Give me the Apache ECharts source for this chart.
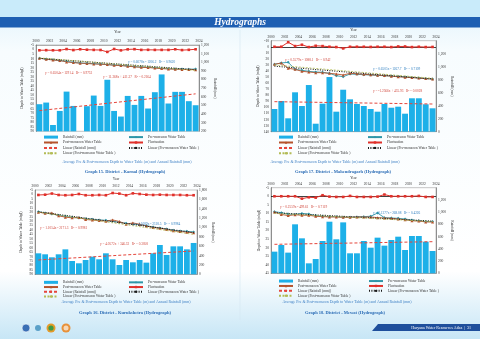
<!DOCTYPE html>
<html><head><meta charset="utf-8">
<script src="https://cdn.jsdelivr.net/npm/echarts@6/dist/echarts.min.js"></script>
<style>html,body{margin:0;padding:0;background:#fff}#c{width:480px;height:339px}</style>
</head><body><div id="c"></div>
<script>
// ---------- DATA ----------
const years = ['2000','2001','2002','2003','2004','2005','2006','2007','2008','2009','2010','2011','2012','2013','2014','2015','2016','2017','2018','2019','2020','2021','2022','2023'];

// Karnal
const karnalRain  = [514, 533, 273, 436, 660, 494, null, 491, 614, 494, 797, 436, 371, 610, 506, 610, 464, 653, 859, 522, 657, 657, 549, 502];
const karnalPre   = [9.7, 10.4, 11.2, 12.3, 13.0, 14.1, 14.8, 15.2, 15.6, 15.9, 16.7, 17.0, 17.4, 18.1, 18.9, 19.2, 19.6, 20.0, 20.7, 21.1, 21.4, 21.4, 21.8, 21.4];
const karnalPost  = [9.5, 10.6, 11.6, 12.0, 13.6, 14.4, 15.0, 15.4, 15.8, 16.2, 16.4, 17.4, 17.6, 18.4, 19.0, 19.6, 19.8, 20.4, 21.0, 21.4, 21.6, 21.9, 22.0, 22.2];
const karnalFluct = [0.8, 0.7, 0.8, 0.8, -0.5, 0.6, -0.3, 0.2, 0.4, 0.5, 2.6, -0.6, 0.9, -0.2, -0.4, 0.4, 0.3, 0.4, 0.4, 0.4, -0.3, 0.6, 0.3, -0.3];
const karnalRainTrend = [440, 634];
const karnalPreTrend  = [9.6, 22.2];
const karnalPostTrend = [9.2, 23.0];
const karnalEquations = ['y = 0.6078x - 1206.2   R² = 0.9620', 'y = 0.6504x - 1291.4   R² = 0.9753', 'y = 11.268x + 411.37   R² = 0.2164'];

// Mahendragarh
const mahendragarhRain  = [349, 472, 206, 606, 395, 718, 123, 431, 841, 308, 646, 498, 426, 395, 349, 308, 426, 369, 385, 277, 514, 514, 422, 360];
const mahendragarhPre   = [28.9, 26.7, 25.6, 37.2, 38.8, 40.5, 41.6, 42.1, 43.8, 47.7, 49.3, 44.9, 45.5, 46.0, 46.5, 47.2, 47.7, 48.3, 49.0, 49.8, 50.5, 51.5, 52.5, 53.1];
const mahendragarhPost  = [28.9, 26.7, 35.5, 37.2, 40.5, 41.6, 42.7, 42.7, 43.8, 44.9, 46.5, 43.8, 44.5, 45.5, 46.2, 46.8, 47.5, 48.5, 49.5, 50.2, 50.8, 51.6, 52.5, 53.0];
const mahendragarhFluct = [0, 0, -7.5, -1.1, -3.3, 0.5, -1.6, -1.1, 0, 0.5, 2.7, 0, 0, 0, 0.3, 0, 0, 0.5, -0.5, -0.5, 0.5, 0, 0.5, 0.3];
const mahendragarhRainTrend = [462, 426];
const mahendragarhPreTrend  = [32.0, 53.0];
const mahendragarhPostTrend = [30.0, 52.0];
const mahendragarhEquations = ['y = 0.6505x - 1267.7   R² = 0.7109', 'y = 0.5579x - 1088.1   R² = 0.942', 'y = -1.2566x + 435.93   R² = 0.0028'];

// Kurukshetra
const kurukshetraRain  = [448, 427, 363, 427, 533, 284, 235, 306, 377, 320, 448, 320, 199, 306, 256, 306, 249, 448, 626, 413, 597, 597, 533, 669];
const kurukshetraPre   = [19.4, 20.9, 22.0, 23.5, 24.7, 25.8, 26.5, 27.3, 28.0, 28.8, 29.2, 30.3, 31.4, 32.6, 33.3, 34.1, 35.2, 36.7, 37.8, 38.9, 40.4, 41.2, 41.6, 42.3];
const kurukshetraPost  = [20.0, 21.2, 21.0, 24.1, 25.6, 26.4, 26.0, 28.2, 28.9, 29.4, 30.1, 28.7, 30.5, 33.5, 32.1, 33.6, 35.5, 37.3, 38.1, 39.5, 41.0, 41.8, 42.5, 43.2];
const kurukshetraFluct = [0.6, 0.3, -1.0, 0.6, 0.9, 0.6, -0.5, 0.9, 0.9, 0.6, 0.9, -1.6, -0.9, 0.9, -1.2, -0.5, 0.3, 0.6, 0.3, 0.6, 0.6, 0.6, 0.9, 0.9];
const kurukshetraRainTrend = [306, 498];
const kurukshetraPreTrend  = [19.5, 43.0];
const kurukshetraPostTrend = [20.0, 45.0];
const kurukshetraEquations = ['y = 1.1689x - 2318.5   R² = 0.9984', 'y = 1.1054x - 2171.3   R² = 0.9981', 'y = 4.0572x + 346.32   R² = 0.3058'];

// Mewat
const mewatRain  = [354, 463, 338, 801, 572, 163, 234, 528, 844, 556, 833, 327, 327, 528, 419, 583, 452, 545, 599, 381, 610, 610, 517, 365];
const mewatPre   = [9.0, 9.6, 10.4, 10.6, 10.0, 10.4, 11.3, 11.7, 11.9, 11.9, 12.3, 12.3, 12.1, 11.9, 11.7, 9.8, 12.5, 12.7, 12.9, 13.3, 13.9, 14.3, 14.8, 14.8];
const mewatPost  = [9.2, 10.6, 11.3, 10.8, 11.1, 11.1, 11.7, 11.9, 12.1, 12.1, 12.3, 12.3, 12.1, 12.1, 12.1, 12.5, 12.7, 12.9, 13.3, 13.7, 14.3, 14.5, 15.0, 15.0];
const mewatFluct = [0, 0, 0, 0, 1.4, 0.6, 0.8, -0.6, 0.2, 0.4, 0.4, -0.2, 0.4, 0.4, 0.4, 0.2, -1.0, 0, 0, 0, 0, -0.2, 0.4, 0.4];
const mewatRainTrend = [474, 517];
const mewatPreTrend  = [9.6, 14.5];
const mewatPostTrend = [10.0, 14.8];
const mewatEquations = ['y = 0.1377x - 268.08   R² = 0.4226', 'y = 0.2559x - 499.61   R² = 0.7119', ''];

const seriesNames = ['Rainfall (mm)', 'Pre-monsoon Water Table', 'Post-monsoon Water Table', 'Fluctuation',
  'Linear (Rainfall (mm))', 'Linear (Pre-monsoon Water Table )', 'Linear (Post-monsoon Water Table )'];
const captionText = 'Average Pre & Post-monsoon Depth to Water Table (m) and Annual Rainfall (mm)';
const graphTitles = ['Graph 15. District - Karnal (Hydrograph)', 'Graph 17. District - Mahendragarh (Hydrograph)',
  'Graph 16. District - Kurukshetra (Hydrograph)', 'Graph 18. District - Mewat (Hydrograph)'];

// ---------- LAYOUT / STYLE ----------
const F = '"Liberation Serif","DejaVu Serif",serif';
const C = {rain:'#1db0e8', pre:'#2e96a8', post:'#b5532c', fluct:'#e0302a', rainT:'#e5463c', preT:'#1a1a1a', postT:'#b3bb55'};

const panels = [
  {g:{left:36, top:45, width:163, height:86.3}, depth:[-5,90,5], rainAx:[200,1200,100], hideMax:false, zero:false,
   d:[karnalRain, karnalPre, karnalPost, karnalFluct, karnalRainTrend, karnalPreTrend, karnalPostTrend], eq:karnalEquations,
   eqPos:[[128,61.7],[45,72.7],[103,77]], yearGap:11, lGap:12, rGap:13, leg:{l:43, r:128, top:134.4, h:5.4},
   cap:[127,162.3], title:[125,172.3]},
  {g:{left:271, top:40.7, width:165, height:91}, depth:[-10,140,10], rainAx:[0,1400,200], hideMax:true, zero:true,
   d:[mahendragarhRain, mahendragarhPre, mahendragarhPost, mahendragarhFluct, mahendragarhRainTrend, mahendragarhPreTrend, mahendragarhPostTrend], eq:mahendragarhEquations,
   eqPos:[[373,69.3],[285,60],[373,91]], yearGap:9, lGap:11, rGap:12, leg:{l:278, r:367, top:134.4, h:5.4},
   cap:[335,162.3], title:[343,172.3]},
  {g:{left:35, top:190, width:162, height:84.3}, depth:[-5,90,5], rainAx:[0,1800,200], hideMax:false, zero:false,
   d:[kurukshetraRain, kurukshetraPre, kurukshetraPost, kurukshetraFluct, kurukshetraRainTrend, kurukshetraPreTrend, kurukshetraPostTrend], eq:kurukshetraEquations,
   eqPos:[[133,224.3],[40,228.3],[100,244]], yearGap:9, lGap:12, rGap:14, leg:{l:43, r:128, top:280, h:4.7},
   cap:[126,302.3], title:[125,313.3]},
  {g:{left:271, top:187.7, width:165, height:85.6}, depth:[-5,45,5], rainAx:[0,1400,200], hideMax:true, zero:true,
   d:[mewatRain, mewatPre, mewatPost, mewatFluct, mewatRainTrend, mewatPreTrend, mewatPostTrend], eq:mewatEquations,
   eqPos:[[373,212.7],[280,207.3],[373,230]], yearGap:8, lGap:10, rGap:12, leg:{l:278, r:368, top:278.6, h:4.9},
   cap:[347,302.3], title:[345,313.3]}
];

function trendData(ends){ const a = years.map(()=>null); a[0]=ends[0]; a[a.length-1]=ends[1]; return a; }

const grid=[], xAxis=[], yAxis=[], series=[], legend=[], graphic=[];
const axisTxt = {fontSize:3.6, color:'#333', fontFamily:F};

// background
graphic.push({type:'rect', z:-10, shape:{x:0,y:0,width:480,height:339},
  style:{fill:new echarts.graphic.LinearGradient(0,0,0,1,[{offset:0,color:'#dff3fc'},{offset:0.15,color:'#f7fcfe'},{offset:0.8,color:'#ffffff'},{offset:1,color:'#c7e6f6'}])}});
graphic.push({type:'rect', z:-9, shape:{x:0,y:0,width:480,height:17}, style:{fill:'#c9ebfa'}});
graphic.push({type:'rect', z:-9, shape:{x:0,y:17,width:480,height:10.5}, style:{fill:'#1e5fb2'}});
graphic.push({type:'text', x:240, y:22.5, style:{text:'Hydrographs', fill:'#fff', font:'italic bold 9.5px '+F, textAlign:'center', textVerticalAlign:'middle'}});
graphic.push({type:'line', z:-8, shape:{x1:240,y1:30,x2:240,y2:320}, style:{stroke:'#d3e6f1', lineWidth:0.6}});
// footer
graphic.push({type:'polygon', shape:{points:[[372,331],[378,324],[480,324],[480,331]]}, style:{fill:'#1f4f9c'}});
graphic.push({type:'text', x:471, y:327.6, style:{text:'Haryana Water Resources Atlas  |  31', fill:'#fff', font:'4px '+F, textAlign:'right', textVerticalAlign:'middle'}});
graphic.push({type:'circle', shape:{cx:26,cy:328,r:4}, style:{fill:'#3a6fb5', stroke:'#fff', lineWidth:0.6}});
graphic.push({type:'circle', shape:{cx:38,cy:328,r:3}, style:{fill:'#5aa0c8'}});
graphic.push({type:'circle', shape:{cx:51,cy:328,r:4.5}, style:{fill:'#e49a2a'}});
graphic.push({type:'circle', shape:{cx:51,cy:328,r:2.6}, style:{fill:'#3e9a46'}});
graphic.push({type:'circle', shape:{cx:66,cy:328,r:4.5}, style:{fill:'#e8913a'}});
graphic.push({type:'circle', shape:{cx:66,cy:328,r:2.5}, style:{fill:'#f6d9b8'}});

panels.forEach((p, i) => {
  const [rain, pre, post, fluct, rainT, preT, postT] = p.d;
  grid.push(Object.assign({show:true, backgroundColor:'#fff', borderColor:'#8a8a8a', borderWidth:0.5, containLabel:false}, p.g));
  xAxis.push({type:'category', gridIndex:i, data:years, boundaryGap:true, axisLabel:{show:false}, axisTick:{show:false}, axisLine:{show:false}, splitLine:{show:false}});
  xAxis.push({type:'value', gridIndex:i, position:'top', min:2000, max:2024, interval:2,
    axisLabel:Object.assign({margin:2, formatter:v=>String(v)}, axisTxt), axisTick:{show:false}, axisLine:{show:true, lineStyle:{color:'#777', width:0.5}}, splitLine:{show:false},
    name:'Year', nameLocation:'middle', nameGap:p.yearGap, nameTextStyle:axisTxt});
  yAxis.push({type:'value', gridIndex:i, inverse:true, min:p.depth[0], max:p.depth[1], interval:p.depth[2], position:'left',
    axisLabel:Object.assign({margin:2, formatter:v=>String(v)}, axisTxt), axisTick:{show:false}, axisLine:{show:true, lineStyle:{color:'#555', width:0.6}}, splitLine:{show:false},
    name:'Depth to Water Table (mbgl)', nameLocation:'middle', nameGap:p.lGap, nameRotate:90, nameTextStyle:axisTxt});
  yAxis.push({type:'value', gridIndex:i, min:p.rainAx[0], max:p.rainAx[1], interval:p.rainAx[2], position:'right',
    axisLabel:Object.assign({margin:2, showMaxLabel:!p.hideMax, formatter:v=>v.toLocaleString('en-US')}, axisTxt),
    axisTick:{show:false}, axisLine:{show:true, lineStyle:{color:'#555', width:0.6}}, splitLine:{show:false},
    name:'Rainfall (mm)', nameLocation:'middle', nameGap:p.rGap, nameRotate:-90, nameTextStyle:axisTxt});
  const xi = 2*i, yl = 2*i, yr = 2*i+1;
  series.push({name:seriesNames[0], type:'bar', xAxisIndex:xi, yAxisIndex:yr, data:rain, barCategoryGap:'14%', clip:true, itemStyle:{color:C.rain}, z:1});
  series.push({name:seriesNames[4], type:'line', xAxisIndex:xi, yAxisIndex:yr, data:trendData(rainT), connectNulls:true, symbol:'none', lineStyle:{color:C.rainT, width:1, type:[3,2]}, itemStyle:{color:C.rainT}, z:3});
  series.push({name:seriesNames[1], type:'line', xAxisIndex:xi, yAxisIndex:yl, data:pre, symbol:'diamond', symbolSize:3, lineStyle:{color:C.pre, width:0.9}, itemStyle:{color:C.pre}, z:4});
  series.push({name:seriesNames[2], type:'line', xAxisIndex:xi, yAxisIndex:yl, data:post, symbol:'triangle', symbolSize:3, lineStyle:{color:C.post, width:0.9}, itemStyle:{color:C.post}, z:4});
  const fl = {name:seriesNames[3], type:'line', xAxisIndex:xi, yAxisIndex:yl, data:fluct, symbol:'rect', symbolSize:2.6, lineStyle:{color:C.fluct, width:1}, itemStyle:{color:C.fluct}, z:5};
  if (p.zero) fl.markLine = {silent:true, symbol:'none', label:{show:false}, lineStyle:{color:'#111', width:0.8, type:'solid'}, data:[{yAxis:0}], z:2};
  series.push(fl);
  series.push({name:seriesNames[5], type:'line', xAxisIndex:xi, yAxisIndex:yl, data:trendData(preT), connectNulls:true, symbol:'none', lineStyle:{color:C.preT, width:1.1, type:[1,1.4]}, itemStyle:{color:C.preT}, z:6});
  series.push({name:seriesNames[6], type:'line', xAxisIndex:xi, yAxisIndex:yl, data:trendData(postT), connectNulls:true, symbol:'none', lineStyle:{color:C.postT, width:0.8, type:[2,1.5]}, itemStyle:{color:C.postT}, z:6});

  const legBase = {orient:'vertical', itemGap:0, itemWidth:14, itemHeight:3, padding:0, selectedMode:false,
    textStyle:{fontSize:3.6, color:'#333', fontFamily:F, lineHeight:p.leg.h}};
  legend.push(Object.assign({}, legBase, {left:p.leg.l, top:p.leg.top,
    data:[{name:seriesNames[0], icon:'rect'}, seriesNames[2], seriesNames[4], seriesNames[6]]}));
  legend.push(Object.assign({}, legBase, {left:p.leg.r, top:p.leg.top,
    data:[seriesNames[1], seriesNames[3], seriesNames[5]]}));

  const eqCol = ['#2f7fc0', '#d0453a', '#d0453a'];
  p.eq.forEach((t, k) => { if (t) graphic.push({type:'text', z:20, x:p.eqPos[k][0], y:p.eqPos[k][1],
    style:{text:t, fill:eqCol[k], font:'3.4px '+F, textAlign:'left', textVerticalAlign:'middle'}}); });
  graphic.push({type:'text', x:p.cap[0], y:p.cap[1], style:{text:captionText, fill:'#3d7fc4', font:'3.9px '+F, textAlign:'center', textVerticalAlign:'middle'}});
  graphic.push({type:'text', x:p.title[0], y:p.title[1], style:{text:graphTitles[i], fill:'#2c6db6', font:'bold 4.5px '+F, textAlign:'center', textVerticalAlign:'middle'}});
});

const chart = echarts.init(document.getElementById('c'));
chart.setOption({animation:false, backgroundColor:'#fff', grid, xAxis, yAxis, series, legend, graphic});
</script></body></html>
